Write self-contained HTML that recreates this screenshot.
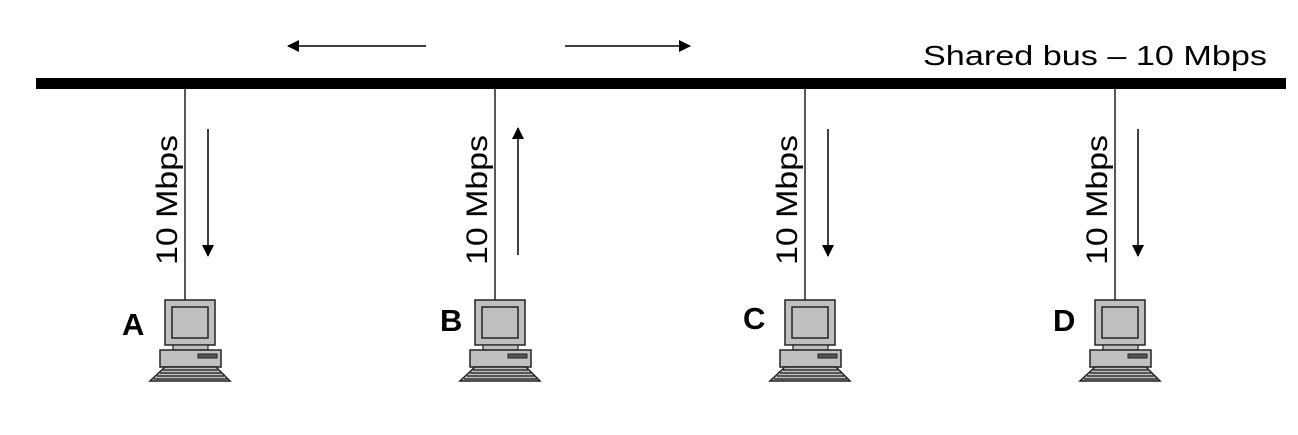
<!DOCTYPE html>
<html><head><meta charset="utf-8"><style>
html,body{margin:0;padding:0;background:#fff;}
svg{display:block;}
text{font-family:"Liberation Sans",Arial,sans-serif;}
</style></head><body>
<svg width="1298" height="435" viewBox="0 0 1298 435" xmlns="http://www.w3.org/2000/svg">
<defs>
<marker id="ah" markerWidth="12" markerHeight="12" refX="11" refY="6" orient="auto" markerUnits="userSpaceOnUse">
<path d="M0,0 L12,6 L0,12 Z" fill="#000"/>
</marker>
<g id="pc">
<rect x="-20" y="0" width="50" height="45" fill="#c0c0c0" stroke="#222" stroke-width="1.5"/>
<rect x="-13" y="7" width="36" height="31" fill="#c0c0c0" stroke="#222" stroke-width="1.5"/>
<rect x="-12" y="45" width="35" height="5" fill="#c0c0c0" stroke="#222" stroke-width="1.2"/>
<rect x="-25" y="50" width="61" height="17" fill="#c0c0c0" stroke="#222" stroke-width="1.5"/>
<rect x="13" y="54" width="19" height="4" fill="#555" stroke="#222" stroke-width="1"/>
<path d="M-20,67 L31,67 L45,81 L-35,81 Z" fill="#c0c0c0" stroke="#222" stroke-width="1.5"/>
<path d="M-22,70 L33,70 M-25,73 L36,73 M-28,76 L39,76 M-31,79 L42,79" stroke="#333" stroke-width="1.5"/>
</g>
</defs>
<rect x="36" y="78" width="1250" height="11" fill="#000"/>
<text x="923" y="65" font-size="28" textLength="344" lengthAdjust="spacingAndGlyphs">Shared bus – 10 Mbps</text>
<line x1="426" y1="46" x2="288" y2="46" stroke="#000" stroke-width="1.5" marker-end="url(#ah)"/>
<line x1="565" y1="46" x2="690" y2="46" stroke="#000" stroke-width="1.5" marker-end="url(#ah)"/>

<g>
<line x1="185" y1="88" x2="185" y2="300" stroke="#222" stroke-width="1.5"/>
<text transform="translate(177,265) rotate(-90)" font-size="30" textLength="130" lengthAdjust="spacingAndGlyphs">10 Mbps</text>
<line x1="208" y1="129" x2="208" y2="256" stroke="#000" stroke-width="1.5" marker-end="url(#ah)"/>
<use href="#pc" x="185" y="300"/>
<text x="122" y="335" font-size="31" font-weight="bold">A</text>
</g>
<g>
<line x1="495" y1="88" x2="495" y2="300" stroke="#222" stroke-width="1.5"/>
<text transform="translate(487,265) rotate(-90)" font-size="30" textLength="130" lengthAdjust="spacingAndGlyphs">10 Mbps</text>
<line x1="518" y1="255" x2="518" y2="128" stroke="#000" stroke-width="1.5" marker-end="url(#ah)"/>
<use href="#pc" x="495" y="300"/>
<text x="440" y="331" font-size="31" font-weight="bold">B</text>
</g>
<g>
<line x1="805" y1="88" x2="805" y2="300" stroke="#222" stroke-width="1.5"/>
<text transform="translate(797,265) rotate(-90)" font-size="30" textLength="130" lengthAdjust="spacingAndGlyphs">10 Mbps</text>
<line x1="828" y1="129" x2="828" y2="256" stroke="#000" stroke-width="1.5" marker-end="url(#ah)"/>
<use href="#pc" x="805" y="300"/>
<text x="743" y="329" font-size="31" font-weight="bold">C</text>
</g>
<g>
<line x1="1115" y1="88" x2="1115" y2="300" stroke="#222" stroke-width="1.5"/>
<text transform="translate(1107,265) rotate(-90)" font-size="30" textLength="130" lengthAdjust="spacingAndGlyphs">10 Mbps</text>
<line x1="1138" y1="129" x2="1138" y2="256" stroke="#000" stroke-width="1.5" marker-end="url(#ah)"/>
<use href="#pc" x="1115" y="300"/>
<text x="1053" y="331" font-size="31" font-weight="bold">D</text>
</g>
</svg>
</body></html>
